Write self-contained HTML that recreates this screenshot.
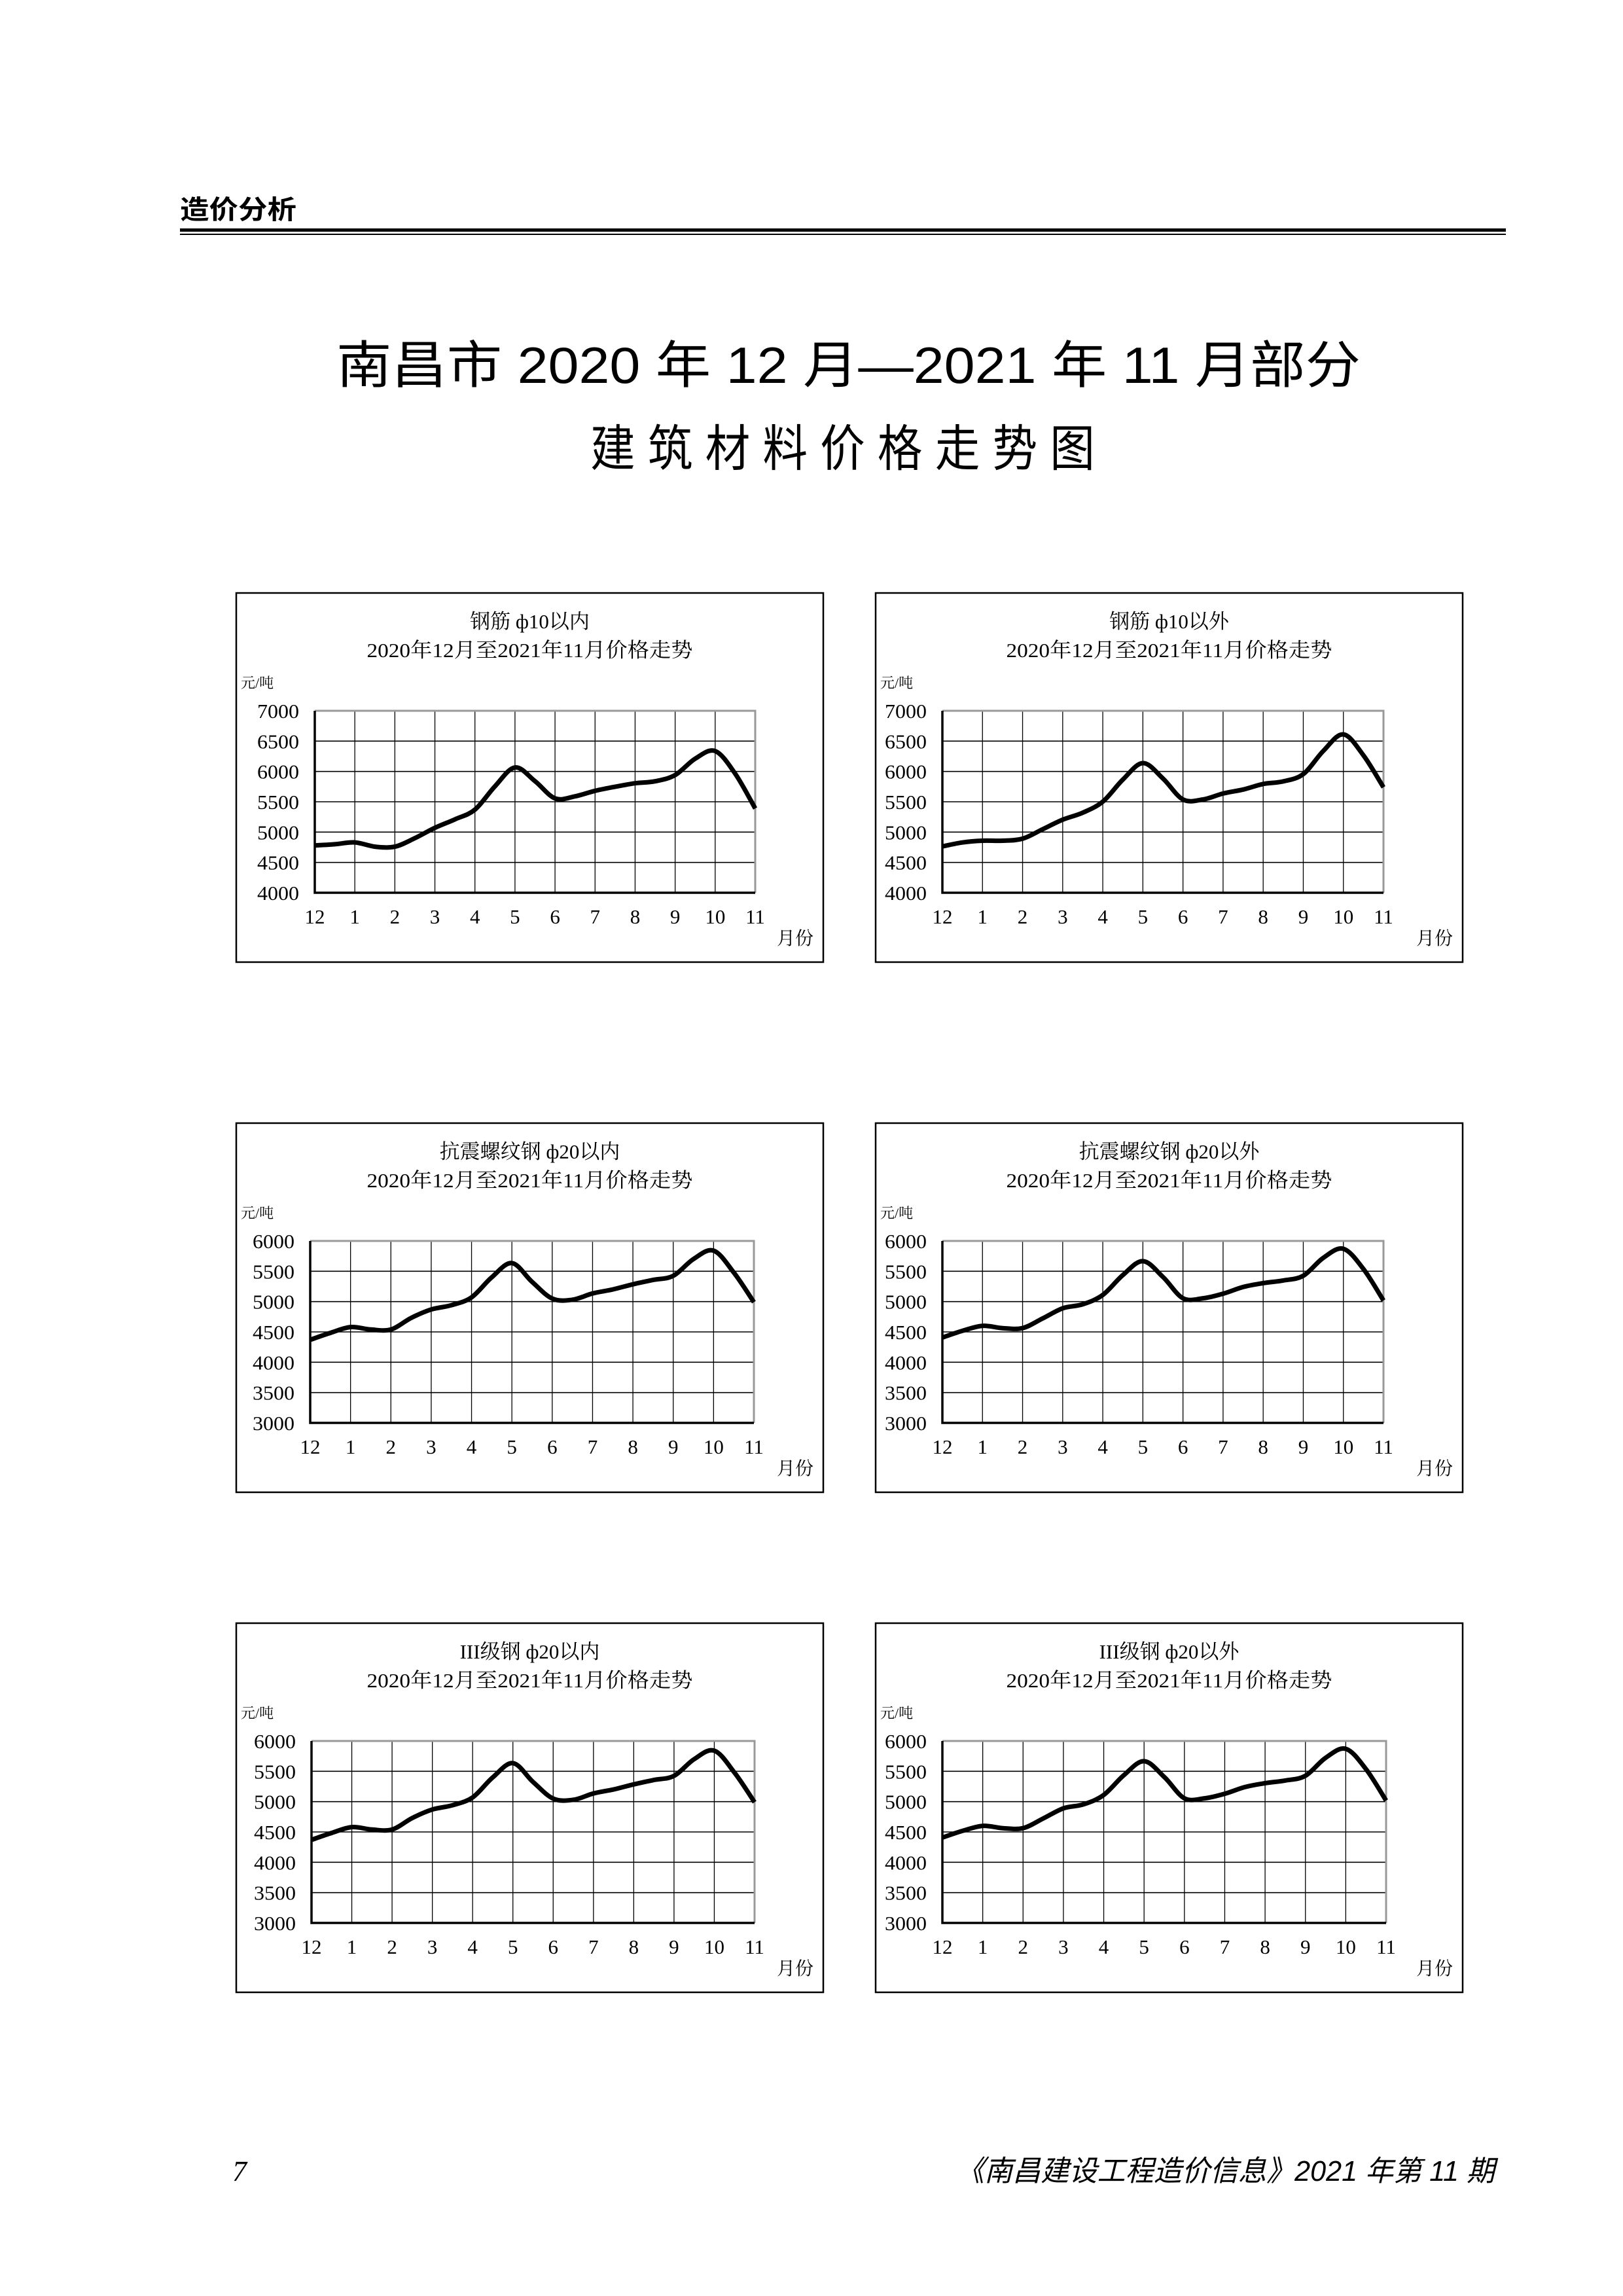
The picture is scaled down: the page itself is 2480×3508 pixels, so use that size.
<!DOCTYPE html>
<html><head><meta charset="utf-8">
<style>
html,body{margin:0;padding:0;background:#fff;}
svg{display:block;}
text{font-family:"Liberation Serif","Noto Serif CJK SC",serif;fill:#000;}
.sans{font-family:"Liberation Sans","Noto Sans CJK SC",sans-serif;}
</style></head>
<body>
<svg id="page" width="2480" height="3508" viewBox="0 0 2480 3508" xmlns="http://www.w3.org/2000/svg">
<rect x="0" y="0" width="2480" height="3508" fill="#fff"/>
<text x="275" y="334" font-size="40" font-weight="bold" class="sans" textLength="178" lengthAdjust="spacingAndGlyphs">造价分析</text>
<rect x="275" y="349" width="2026" height="5" fill="#000"/>
<rect x="275" y="357" width="2026" height="2" fill="#000"/>
<text x="514" y="585" font-size="78" class="sans" textLength="1565" lengthAdjust="spacingAndGlyphs">南昌市 2020 年 12 月—2021 年 11 月部分</text>
<text x="902" y="712" font-size="76" class="sans" textLength="771" lengthAdjust="spacingAndGlyphs">建 筑 材 料 价 格 走 势 图</text>
<text x="355" y="3332" font-size="44" font-style="italic">7</text>
<text x="1461" y="3332" font-size="44" font-style="italic" class="sans" textLength="823" lengthAdjust="spacingAndGlyphs">《南昌建设工程造价信息》2021 年第 11 期</text>
<g id="charts"></g>
</svg>
<script>
// Chart data: half-month sampled prices (元/吨), 23 points from Dec 2020 to Nov 2021
const monthLabels = ['12','1','2','3','4','5','6','7','8','9','10','11'];
const ticksA = [4000,4500,5000,5500,6000,6500,7000];
const ticksB = [3000,3500,4000,4500,5000,5500,6000];
const rebarInner = [4780,4800,4830,4760,4760,4900,5070,5210,5370,5755,6066,5840,5556,5590,5680,5747,5805,5838,5940,6210,6336,5963,5390];
const rebarOuter = [4764,4829,4858,4858,4891,5047,5204,5320,5502,5865,6138,5884,5538,5538,5636,5702,5793,5836,5956,6338,6611,6265,5738];
const seismicInner = [4370,4484,4580,4540,4540,4730,4870,4940,5070,5400,5635,5325,5050,5030,5135,5200,5285,5357,5425,5700,5840,5480,4990];
const seismicOuter = [4407,4518,4600,4563,4563,4722,4890,4955,5110,5437,5667,5407,5055,5055,5130,5240,5304,5348,5426,5722,5870,5537,5018];
const grade3Inner = [4370,4484,4580,4540,4540,4730,4870,4940,5070,5400,5635,5325,5050,5030,5135,5200,5285,5357,5425,5700,5840,5480,4990];
const grade3Outer = [4407,4518,4600,4563,4563,4722,4890,4955,5110,5437,5667,5407,5055,5055,5130,5240,5304,5348,5426,5722,5870,5537,5018];
const chartTitles = ['钢筋  ф10以内','钢筋  ф10以外','抗震螺纹钢  ф20以内','抗震螺纹钢  ф20以外','III级钢  ф20以内','III级钢  ф20以外'];

const NS='http://www.w3.org/2000/svg';
const root=document.getElementById('charts');
function mk(tag,attrs,parent){const e=document.createElementNS(NS,tag);for(const k in attrs)e.setAttribute(k,attrs[k]);(parent||root).appendChild(e);return e;}

const specs=[
 {bx:361,by:906,px0:481,px1:1154,vals:rebarInner,ticks:ticksA},
 {bx:1338,by:906,px0:1440,px1:2114,vals:rebarOuter,ticks:ticksA},
 {bx:361,by:1716,px0:474,px1:1152,vals:seismicInner,ticks:ticksB},
 {bx:1338,by:1716,px0:1440,px1:2114,vals:seismicOuter,ticks:ticksB},
 {bx:361,by:2480,px0:476,px1:1153,vals:grade3Inner,ticks:ticksB},
 {bx:1338,by:2480,px0:1440,px1:2118,vals:grade3Outer,ticks:ticksB}
];

specs.forEach((s,ci)=>{
  const g=mk('g',{});
  
  
  const bw=897,bh=564;
  const frame=mk('rect',{x:s.bx,y:s.by,width:bw,height:bh,fill:'none',stroke:'#000','stroke-width':2.5},g);
  
  
  const cx=s.bx+bw/2;
  const t1=mk('text',{x:cx,y:s.by+54,'font-size':31,'text-anchor':'middle'},g);
  t1.textContent=chartTitles[ci];
  
  
  const t2=mk('text',{x:cx,y:s.by+98,'font-size':31,'text-anchor':'middle',textLength:498,lengthAdjust:'spacingAndGlyphs'},g);
  t2.textContent='2020年12月至2021年11月价格走势';
  
  
  const u=mk('text',{x:s.bx+7,y:s.by+145,'font-size':22},g);
  u.textContent='元/吨';
  
  

  const top=s.by+180, bot=s.by+458;
  const tmin=s.ticks[0], tmax=s.ticks[s.ticks.length-1];
  const yS=v=>bot-(v-tmin)/(tmax-tmin)*(bot-top);
  const xS=m=>s.px0+m/11*(s.px1-s.px0);

  s.ticks.forEach(tv=>{
    const y=yS(tv);
    if(tv!==tmin&&tv!==tmax){
      const l=mk('line',{x1:s.px0,x2:s.px1,y1:y,y2:y,stroke:'#000','stroke-width':1.6},g);
      
      
    }
    const tl=mk('text',{x:s.px0-24,y:y+11,'font-size':31,'text-anchor':'end',textLength:64,lengthAdjust:'spacingAndGlyphs'},g);
    tl.textContent=String(tv);
    
    
  });
  monthLabels.forEach((ml,i)=>{
    const x=xS(i);
    if(i>0&&i<11){
      const l=mk('line',{x1:x,x2:x,y1:top,y2:bot,stroke:'#000','stroke-width':1.3},g);
      
      
    }
    const xl=mk('text',{x:x,y:s.by+505,'font-size':31,'text-anchor':'middle'},g);
    xl.textContent=ml;
    
    
  });
  const tb=mk('path',{d:`M${s.px0} ${top}H${s.px1}V${bot}`,fill:'none',stroke:'#999','stroke-width':3},g);
  
  
  const ax=mk('path',{d:`M${s.px0} ${top}V${bot}H${s.px1}`,fill:'none',stroke:'#000','stroke-width':3.5},g);
  
  
  const xt=mk('text',{x:s.bx+826,y:s.by+537,'font-size':28},g);
  xt.textContent='月份';
  
  

  // smooth curve (Catmull-Rom) through data points
  const pts=s.vals.map((v,i)=>[xS(i*0.5),yS(v)]);
  let d=`M${pts[0][0].toFixed(1)} ${pts[0][1].toFixed(1)}`;
  for(let i=0;i<pts.length-1;i++){
    const p0=pts[Math.max(0,i-1)],p1=pts[i],p2=pts[i+1],p3=pts[Math.min(pts.length-1,i+2)];
    const c1=[p1[0]+(p2[0]-p0[0])/6,p1[1]+(p2[1]-p0[1])/6];
    const c2=[p2[0]-(p3[0]-p1[0])/6,p2[1]-(p3[1]-p1[1])/6];
    d+=` C${c1[0].toFixed(1)} ${c1[1].toFixed(1)} ${c2[0].toFixed(1)} ${c2[1].toFixed(1)} ${p2[0].toFixed(1)} ${p2[1].toFixed(1)}`;
  }
  const line=mk('path',{d:d,fill:'none',stroke:'#000','stroke-width':7,'stroke-linejoin':'round'},g);
  
  
});
</script>
</body></html>
